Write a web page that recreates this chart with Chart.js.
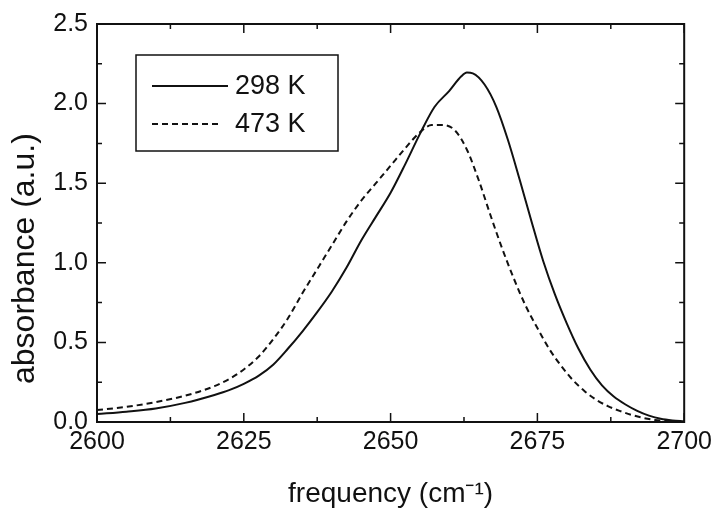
<!DOCTYPE html>
<html>
<head>
<meta charset="utf-8">
<script src="https://cdn.jsdelivr.net/npm/chart.js@4"></script>
<style>
  html, body { margin: 0; padding: 0; background: #fff; }
</style>
</head>
<body>
<canvas id="absChart" width="717" height="508"></canvas>
<script>
// series
const seriesNames = ['298 K', '473 K'];

const freq298 = [2600, 2605, 2610, 2615, 2620, 2622.5, 2625, 2627.5, 2630, 2632.5, 2635, 2637.5, 2640, 2642.5,
  2645, 2647.5, 2650, 2652.5, 2655, 2657.5, 2660, 2662, 2663, 2664, 2666, 2668, 2670, 2672, 2674, 2676,
  2678, 2680, 2682, 2684, 2686, 2688, 2690, 2692, 2694, 2696, 2698, 2700];
const abs298 = [0.05, 0.065, 0.085, 0.12, 0.17, 0.20, 0.24, 0.29, 0.36, 0.46, 0.57, 0.69, 0.82, 0.97,
  1.14, 1.29, 1.44, 1.62, 1.81, 1.98, 2.08, 2.17, 2.195, 2.19, 2.12, 1.98, 1.77, 1.52, 1.26, 1.01,
  0.80, 0.62, 0.46, 0.33, 0.23, 0.16, 0.11, 0.07, 0.04, 0.02, 0.01, 0.005];

const freq473 = [2600, 2605, 2610, 2615, 2620, 2622.5, 2625, 2627.5, 2630, 2632.5, 2635, 2637.5, 2640, 2642.5,
  2645, 2647.5, 2650, 2652.5, 2655, 2657, 2659, 2661, 2663, 2665, 2667, 2669, 2671, 2673, 2675, 2677,
  2679, 2681, 2683, 2685, 2687, 2689, 2691, 2693, 2695, 2697, 2700];
const abs473 = [0.075, 0.095, 0.125, 0.165, 0.225, 0.27, 0.33, 0.41, 0.52, 0.65, 0.81, 0.96, 1.11, 1.26,
  1.39, 1.50, 1.61, 1.72, 1.82, 1.865, 1.865, 1.83, 1.71, 1.52, 1.30, 1.09, 0.90, 0.73, 0.59, 0.46,
  0.355, 0.265, 0.195, 0.14, 0.10, 0.07, 0.045, 0.026, 0.013, 0.006, 0.003];

const xTicks = [2600, 2625, 2650, 2675, 2700];
const yTicks = [0, 0.5, 1.0, 1.5, 2.0, 2.5];

const ink = '#111';
const fontFamily = '"Liberation Sans", Arial, Helvetica, sans-serif';
Chart.defaults.font.family = fontFamily;
Chart.defaults.color = ink;

function toPoints(xs, ys) {
  return xs.map((x, i) => ({ x: x, y: ys[i] }));
}

// box round the plot, inward ticks on all four sides, legend inside the plot
const frameAndLegend = {
  id: 'frameAndLegend',
  afterDatasetsDraw(chart) {
    const { ctx, chartArea: a, scales: { x, y } } = chart;
    ctx.save();
    ctx.strokeStyle = ink;
    ctx.lineWidth = 2;
    ctx.strokeRect(a.left, a.top, a.right - a.left, a.bottom - a.top);

    const major = 9, minor = 5;
    ctx.lineWidth = 1.5;
    ctx.beginPath();
    xTicks.forEach((v, i) => {
      let px = x.getPixelForValue(v);
      ctx.moveTo(px, a.bottom); ctx.lineTo(px, a.bottom - major);
      ctx.moveTo(px, a.top); ctx.lineTo(px, a.top + major);
      if (i < xTicks.length - 1) {
        px = x.getPixelForValue((v + xTicks[i + 1]) / 2);
        ctx.moveTo(px, a.bottom); ctx.lineTo(px, a.bottom - minor);
        ctx.moveTo(px, a.top); ctx.lineTo(px, a.top + minor);
      }
    });
    yTicks.forEach((v, i) => {
      let py = y.getPixelForValue(v);
      ctx.moveTo(a.left, py); ctx.lineTo(a.left + major, py);
      ctx.moveTo(a.right, py); ctx.lineTo(a.right - major, py);
      if (i < yTicks.length - 1) {
        py = y.getPixelForValue((v + yTicks[i + 1]) / 2);
        ctx.moveTo(a.left, py); ctx.lineTo(a.left + minor, py);
        ctx.moveTo(a.right, py); ctx.lineTo(a.right - minor, py);
      }
    });
    ctx.stroke();

    // legend
    const bx = a.left + 39, by = a.top + 31, bw = 202, bh = 96;
    ctx.lineWidth = 1.5;
    ctx.strokeRect(bx, by, bw, bh);
    ctx.font = '27px ' + fontFamily;
    ctx.fillStyle = ink;
    ctx.textBaseline = 'middle';
    chart.data.datasets.forEach((ds, i) => {
      const ly = by + 31 + i * 38;
      ctx.beginPath();
      ctx.lineWidth = ds.borderWidth;
      ctx.setLineDash(ds.borderDash || []);
      ctx.moveTo(bx + 16, ly);
      ctx.lineTo(bx + (i === 0 ? 92 : 84), ly);
      ctx.stroke();
      ctx.setLineDash([]);
      ctx.fillText(ds.label, bx + 99, ly + 1);
    });
    ctx.restore();
  }
};

const ctx = document.getElementById('absChart').getContext('2d');
const absChart = new Chart(ctx, {
  type: 'line',
  data: {
    datasets: [{
      label: seriesNames[0],
      data: toPoints(freq298, abs298),
      borderColor: ink,
      borderWidth: 2,
      pointRadius: 0,
      cubicInterpolationMode: 'monotone',
      fill: false
    }, {
      label: seriesNames[1],
      data: toPoints(freq473, abs473),
      borderColor: ink,
      borderWidth: 2,
      borderDash: [6, 4],
      pointRadius: 0,
      cubicInterpolationMode: 'monotone',
      fill: false
    }]
  },
  options: {
    responsive: false,
    animation: false,
    layout: { padding: { top: 20, right: 30, left: 0, bottom: 0 } },
    plugins: {
      legend: { display: false },
      tooltip: { enabled: false }
    },
    scales: {
      x: {
        type: 'linear',
        min: 2600,
        max: 2700,
        afterBuildTicks: scale => { scale.ticks = xTicks.map(v => ({ value: v })); },
        afterFit: scale => { scale.height = 86; },
        grid: { display: false, drawTicks: false },
        border: { display: false },
        ticks: {
          padding: 5,
          maxRotation: 0,
          font: { size: 25 },
          color: ink,
          callback: v => String(v)
        },
        title: {
          display: true,
          text: 'frequency (cm⁻¹)',
          font: { size: 28, lineHeight: 1 },
          padding: { top: 0, bottom: 0 },
          color: ink
        }
      },
      y: {
        min: 0,
        max: 2.5,
        afterBuildTicks: scale => { scale.ticks = yTicks.map(v => ({ value: v })); },
        afterFit: scale => { scale.width = 97; },
        grid: { display: false, drawTicks: false },
        border: { display: false },
        ticks: {
          padding: 9,
          font: { size: 25 },
          color: ink,
          callback: v => v.toFixed(1)
        },
        title: {
          display: true,
          // trailing no-break spaces push the label down the axis, as in the original
          text: 'absorbance (a.u.)\u00a0\u00a0\u00a0\u00a0\u00a0\u00a0\u00a0\u00a0',
          font: { size: 32, lineHeight: 1 },
          padding: { top: 9, bottom: 0 },
          color: ink
        }
      }
    }
  },
  plugins: [frameAndLegend]
});
</script>
</body>
</html>
